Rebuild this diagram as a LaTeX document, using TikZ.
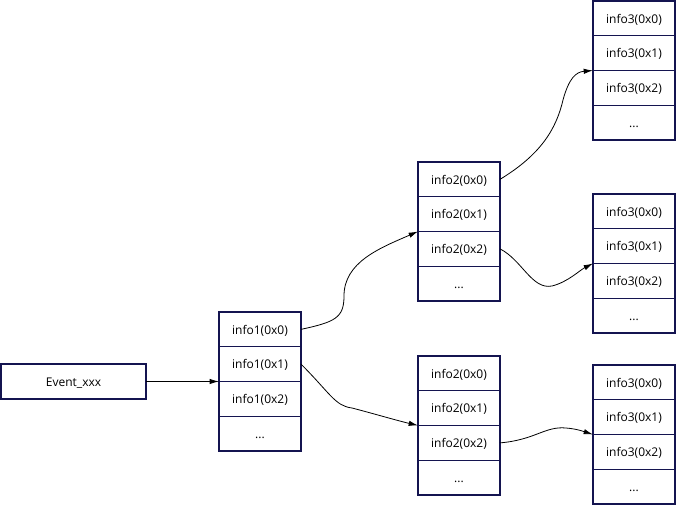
\documentclass[tikz,border=0pt]{standalone}
\usepackage{fontspec}
\setmainfont{Open Sans}
\usetikzlibrary{arrows.meta}
\definecolor{boxline}{HTML}{141450}
\tikzset{
  cell/.style={draw=boxline, line width=0.8pt, anchor=north west, inner sep=0pt, outer sep=0pt,
    minimum width=61.5pt, minimum height=26.06pt, text height=9pt, text depth=2pt,
    font=\fontsize{9}{11}\selectfont},
  event/.style={draw=boxline, line width=0.8pt, inner sep=0pt, outer sep=0pt,
    minimum width=108.75pt, minimum height=26.25pt, text height=9pt, text depth=2pt,
    font=\fontsize{9}{11}\selectfont},
  link/.style={-{Latex[length=7pt,width=4pt]}, line width=0.6pt}
}
\begin{document}
\begin{tikzpicture}[x=0.75pt,y=-0.75pt]
\useasboundingbox (0,0) rectangle (676,505);
\node[event] (ev) at (73.5,381.5) {Event\_xxx};
\foreach \n/\x/\y/\p in {a/219/312/info1, b/418/162/info2, c/418/356/info2,
                          d/593/1/info3, e/593/194/info3, f/593/365/info3}{
  \foreach \k in {0,1,2}
    \node[cell] (\n\k) at (\x,\y+\k*34.75) {\p(0x\k)};
  \node[cell] (\n3) at (\x,\y+104.25) {...};
}
\draw [link] (ev.east) -- (a1.south west);
\draw [link] (a0.east) .. controls (335,322) and (344,318) .. (344,296)
  .. controls (344,262) and (380,248) .. (b1.south west);
\draw [link] (a1.east) .. controls (330,393) and (335,406) .. (352,408)
  .. controls (375,414) and (395,420) .. (c1.south west);
\draw [link] (b0.east) .. controls (540,155) and (556,130) .. (563,100)
  .. controls (569,78) and (576,72) .. (d1.south west);
\draw [link] (b2.east) .. controls (522,260) and (532,290) .. (552,286)
  .. controls (568,282) and (580,270) .. (e1.south west);
\draw [link] (c2.east) .. controls (535,440) and (545,426) .. (566,428)
  .. controls (578,429) and (585,432) .. (f1.south west);
\end{tikzpicture}
\end{document}
